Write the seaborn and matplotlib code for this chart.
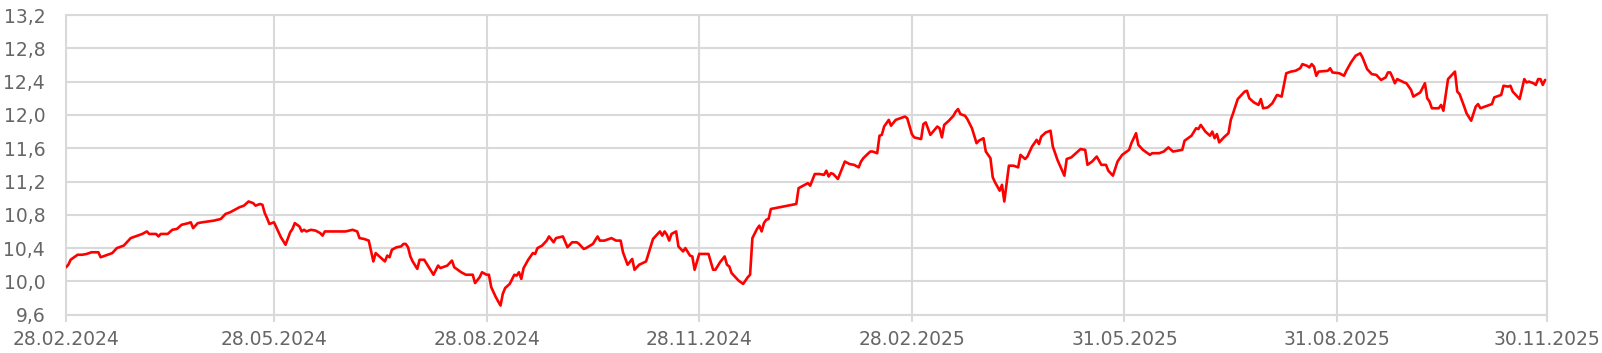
import numpy as np
import pandas as pd
import matplotlib
matplotlib.use("Agg")
import matplotlib.pyplot as plt
import matplotlib.dates as mdates
from matplotlib.ticker import FuncFormatter
import seaborn as sns

# ---- data ----
start_date = "2024-02-28"
end_date = "2025-11-30"
days = [0, 1, 2, 5, 7, 9, 11, 14, 15, 17, 20, 22, 25, 27, 28, 31, 33, 35, 36, 39,
        40, 41, 44, 46, 48, 50, 53, 54, 55, 57, 59, 64, 67, 68, 69, 71, 73, 75, 77, 79,
        81, 82, 84, 85, 86, 87, 88, 90, 91, 93, 95, 97, 98, 99, 101, 102, 103, 104, 106, 108,
        110, 111, 112, 121, 124, 126, 127, 129, 131, 133, 134, 136, 138, 139, 140, 141, 143, 145, 146, 147,
        148, 149, 150, 152, 153, 155, 159, 161, 162, 165, 167, 168, 171, 173, 176, 177, 179, 180, 182, 183,
        184, 186, 188, 189, 190, 192, 194, 195, 196, 197, 198, 200, 202, 203, 204, 206, 208, 209, 211, 212,
        215, 217, 219, 221, 222, 224, 225, 228, 230, 231, 233, 236, 238, 240, 241, 243, 245, 246, 248, 251,
        254, 257, 258, 259, 260, 261, 262, 264, 265, 267, 268, 270, 271, 272, 274, 278, 280, 281, 283, 285,
        286, 287, 288, 291, 293, 295, 296, 297, 299, 300, 301, 302, 303, 304, 305, 316, 317, 319, 321, 322,
        324, 326, 328, 329, 330, 331, 332, 334, 337, 339, 341, 343, 344, 345, 348, 349, 351, 352, 353, 354,
        356, 357, 359, 361, 363, 364, 366, 367, 370, 371, 372, 374, 377, 378, 379, 380, 382, 384, 385, 386,
        387, 389, 390, 392, 394, 395, 397, 398, 400, 401, 402, 404, 405, 406, 408, 410, 412, 413, 415, 416,
        418, 420, 421, 422, 424, 426, 427, 429, 432, 433, 435, 437, 439, 441, 442, 444, 446, 448, 450, 451,
        453, 455, 457, 460, 461, 463, 464, 466, 469, 470, 473, 475, 477, 479, 481, 483, 484, 485, 487, 489,
        490, 491, 493, 495, 496, 497, 498, 499, 501, 503, 504, 505, 507, 509, 510, 511, 512, 514, 516, 517,
        518, 520, 522, 524, 526, 528, 530, 532, 534, 535, 537, 538, 539, 540, 541, 542, 546, 547, 548, 551,
        553, 554, 556, 558, 560, 561, 563, 565, 567, 569, 571, 572, 573, 574, 575, 576, 579, 580, 582, 583,
        586, 588, 589, 590, 591, 594, 595, 596, 598, 600, 601, 602, 603, 605, 606, 608, 610, 611, 612, 614,
        617, 618, 621, 622, 624, 625, 626, 629, 631, 632, 633, 635, 636, 637, 638, 639, 640]
values = [10.17, 10.20, 10.26, 10.32, 10.32, 10.33, 10.35, 10.35, 10.29, 10.31, 10.34, 10.40, 10.43, 10.49, 10.52, 10.55, 10.57, 10.60, 10.57, 10.57,
          10.54, 10.57, 10.57, 10.62, 10.63, 10.68, 10.70, 10.71, 10.64, 10.70, 10.71, 10.73, 10.75, 10.78, 10.81, 10.83, 10.86, 10.89, 10.91, 10.96,
          10.94, 10.91, 10.93, 10.92, 10.82, 10.76, 10.69, 10.71, 10.65, 10.53, 10.44, 10.59, 10.63, 10.70, 10.66, 10.60, 10.62, 10.60, 10.62, 10.61,
          10.58, 10.55, 10.60, 10.60, 10.62, 10.60, 10.52, 10.51, 10.49, 10.24, 10.34, 10.29, 10.24, 10.31, 10.29, 10.38, 10.41, 10.42, 10.45, 10.45,
          10.41, 10.30, 10.24, 10.15, 10.26, 10.26, 10.08, 10.19, 10.16, 10.19, 10.25, 10.17, 10.11, 10.08, 10.08, 9.98, 10.05, 10.11, 10.08, 10.08,
          9.93, 9.81, 9.71, 9.85, 9.92, 9.97, 10.08, 10.07, 10.11, 10.03, 10.16, 10.26, 10.34, 10.33, 10.40, 10.43, 10.49, 10.54, 10.47, 10.52,
          10.54, 10.41, 10.47, 10.47, 10.45, 10.39, 10.40, 10.45, 10.54, 10.49, 10.49, 10.52, 10.49, 10.49, 10.35, 10.20, 10.27, 10.14, 10.20, 10.24,
          10.51, 10.60, 10.55, 10.60, 10.56, 10.49, 10.57, 10.60, 10.42, 10.36, 10.40, 10.31, 10.30, 10.14, 10.33, 10.33, 10.14, 10.14, 10.23, 10.30,
          10.20, 10.18, 10.10, 10.01, 9.97, 10.05, 10.08, 10.52, 10.63, 10.67, 10.60, 10.70, 10.74, 10.75, 10.87, 10.93, 11.12, 11.15, 11.18, 11.15,
          11.29, 11.29, 11.28, 11.33, 11.26, 11.30, 11.29, 11.23, 11.44, 11.41, 11.40, 11.37, 11.44, 11.48, 11.56, 11.56, 11.54, 11.75, 11.76, 11.86,
          11.94, 11.87, 11.94, 11.96, 11.98, 11.96, 11.77, 11.73, 11.71, 11.89, 11.91, 11.76, 11.86, 11.84, 11.73, 11.88, 11.93, 11.99, 12.04, 12.07,
          12.01, 11.99, 11.95, 11.84, 11.66, 11.69, 11.72, 11.56, 11.48, 11.25, 11.19, 11.09, 11.16, 10.96, 11.39, 11.39, 11.37, 11.52, 11.47, 11.50,
          11.62, 11.70, 11.65, 11.74, 11.79, 11.81, 11.62, 11.46, 11.27, 11.47, 11.49, 11.54, 11.59, 11.58, 11.40, 11.44, 11.50, 11.40, 11.40, 11.33,
          11.27, 11.44, 11.52, 11.58, 11.66, 11.78, 11.64, 11.58, 11.52, 11.54, 11.54, 11.56, 11.61, 11.56, 11.57, 11.58, 11.69, 11.71, 11.75, 11.84,
          11.83, 11.88, 11.80, 11.75, 11.80, 11.72, 11.77, 11.67, 11.73, 11.78, 11.94, 12.02, 12.19, 12.25, 12.28, 12.29, 12.20, 12.15, 12.12, 12.19,
          12.08, 12.09, 12.14, 12.24, 12.22, 12.50, 12.52, 12.53, 12.56, 12.61, 12.59, 12.57, 12.61, 12.58, 12.47, 12.52, 12.53, 12.56, 12.51, 12.50,
          12.47, 12.53, 12.63, 12.71, 12.74, 12.69, 12.55, 12.49, 12.48, 12.42, 12.45, 12.51, 12.51, 12.45, 12.38, 12.43, 12.39, 12.38, 12.30, 12.22,
          12.27, 12.38, 12.20, 12.16, 12.08, 12.08, 12.12, 12.05, 12.43, 12.49, 12.52, 12.28, 12.25, 12.10, 12.02, 11.93, 12.10, 12.13, 12.08, 12.10,
          12.13, 12.21, 12.24, 12.35, 12.34, 12.35, 12.28, 12.19, 12.43, 12.39, 12.40, 12.38, 12.36, 12.43, 12.43, 12.36, 12.42]
tick_dates = ["2024-02-28", "2024-05-28", "2024-08-28", "2024-11-28",
              "2025-02-28", "2025-05-31", "2025-08-31", "2025-11-30"]
tick_labels = ["28.02.2024", "28.05.2024", "28.08.2024", "28.11.2024",
               "28.02.2025", "31.05.2025", "31.08.2025", "30.11.2025"]
y_ticks = [9.6, 10.0, 10.4, 10.8, 11.2, 11.6, 12.0, 12.4, 12.8, 13.2]

# ---- build frame ----
dates = pd.Timestamp(start_date) + pd.to_timedelta(days, unit="D")
df = pd.DataFrame({"date": dates, "value": values})

sns.set_theme(style="white")
plt.rcParams["font.family"] = ["DejaVu Sans"]

GRID = "#D9D9D9"
TXT = "#666666"

fig = plt.figure(figsize=(16.02, 3.53), dpi=100)
ax = fig.add_axes([66 / 1602, 1 - 314.7 / 353, (1547.4 - 66) / 1602, (314.7 - 15) / 353])

sns.lineplot(data=df, x="date", y="value", ax=ax, color="#FF0000",
             linewidth=1.9, estimator=None, zorder=3)

ax.set_xlim(pd.Timestamp(start_date), pd.Timestamp(end_date))
ax.set_ylim(9.6, 13.2)
ax.set_xticks(pd.to_datetime(tick_dates))
ax.set_xticklabels(tick_labels)
ax.set_yticks(y_ticks)
ax.yaxis.set_major_formatter(FuncFormatter(lambda v, p: f"{v:.1f}".replace(".", ",")))

ax.grid(True, axis="both", color=GRID, linewidth=1.5, zorder=0)
for s in ax.spines.values():
    s.set_visible(False)
ax.spines["left"].set_visible(True)
ax.spines["right"].set_visible(True)
ax.spines["top"].set_visible(True)
ax.spines["bottom"].set_visible(True)
for s in ax.spines.values():
    s.set_color(GRID)
    s.set_linewidth(1.5)

ax.tick_params(axis="x", length=5, width=1.5, color=GRID, pad=6,
               labelsize=13.5, labelcolor=TXT, bottom=True)
ax.tick_params(axis="y", length=0, pad=15, labelsize=13.5, labelcolor=TXT, left=True)
ax.set_xlabel("")
ax.set_ylabel("")

fig.savefig("out.png", dpi=100, facecolor="white")
